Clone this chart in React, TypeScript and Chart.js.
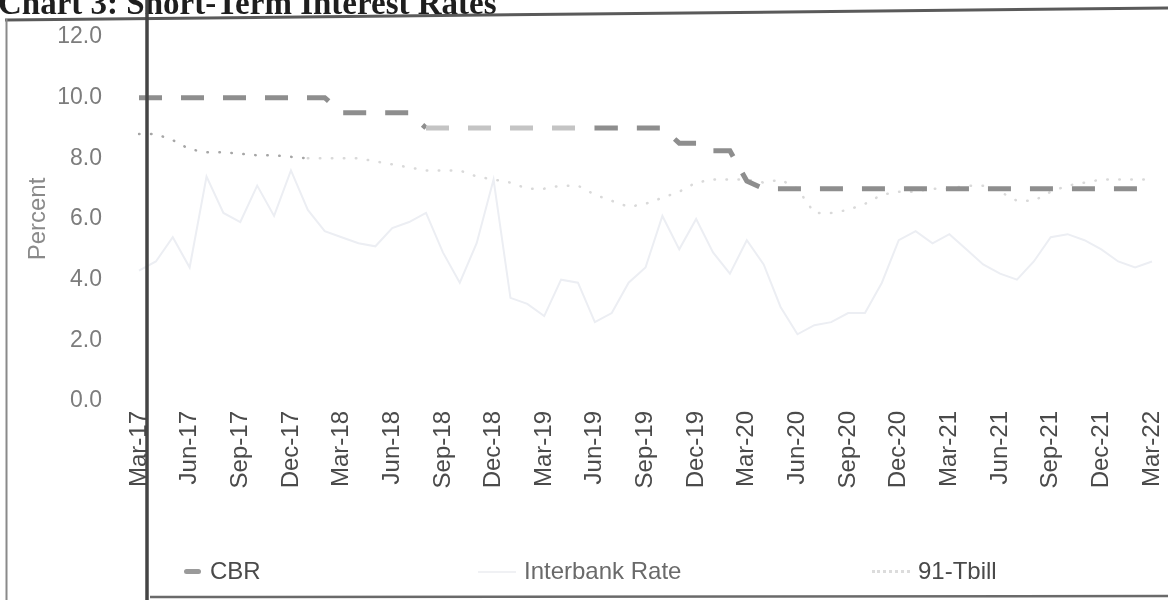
import React, { useEffect, useRef } from "react";
import { Chart, registerables } from "chart.js";

Chart.register(...registerables);

// ---- data (monthly, Mar-17 .. Mar-22) ----
const months = [
  "Mar-17", "Apr-17", "May-17", "Jun-17", "Jul-17", "Aug-17", "Sep-17", "Oct-17", "Nov-17", "Dec-17",
  "Jan-18", "Feb-18", "Mar-18", "Apr-18", "May-18", "Jun-18", "Jul-18", "Aug-18", "Sep-18", "Oct-18", "Nov-18", "Dec-18",
  "Jan-19", "Feb-19", "Mar-19", "Apr-19", "May-19", "Jun-19", "Jul-19", "Aug-19", "Sep-19", "Oct-19", "Nov-19", "Dec-19",
  "Jan-20", "Feb-20", "Mar-20", "Apr-20", "May-20", "Jun-20", "Jul-20", "Aug-20", "Sep-20", "Oct-20", "Nov-20", "Dec-20",
  "Jan-21", "Feb-21", "Mar-21", "Apr-21", "May-21", "Jun-21", "Jul-21", "Aug-21", "Sep-21", "Oct-21", "Nov-21", "Dec-21",
  "Jan-22", "Feb-22", "Mar-22",
];

const cbr = [
  10.0, 10.0, 10.0, 10.0, 10.0, 10.0, 10.0, 10.0, 10.0, 10.0,
  10.0, 10.0, 9.5, 9.5, 9.5, 9.5, 9.5, 9.0, 9.0, 9.0, 9.0, 9.0,
  9.0, 9.0, 9.0, 9.0, 9.0, 9.0, 9.0, 9.0, 9.0, 9.0, 8.5, 8.5,
  8.25, 8.25, 7.25, 7.0, 7.0, 7.0, 7.0, 7.0, 7.0, 7.0, 7.0, 7.0,
  7.0, 7.0, 7.0, 7.0, 7.0, 7.0, 7.0, 7.0, 7.0, 7.0, 7.0, 7.0,
  7.0, 7.0, 7.0,
];

const interbank = [
  4.3, 4.6, 5.4, 4.4, 7.4, 6.2, 5.9, 7.1, 6.1, 7.6,
  6.3, 5.6, 5.4, 5.2, 5.1, 5.7, 5.9, 6.2, 4.9, 3.9, 5.2, 7.3,
  3.4, 3.2, 2.8, 4.0, 3.9, 2.6, 2.9, 3.9, 4.4, 6.1, 5.0, 6.0,
  4.9, 4.2, 5.3, 4.5, 3.1, 2.2, 2.5, 2.6, 2.9, 2.9, 3.9, 5.3,
  5.6, 5.2, 5.5, 5.0, 4.5, 4.2, 4.0, 4.6, 5.4, 5.5, 5.3, 5.0,
  4.6, 4.4, 4.6,
];

const tbill91 = [
  8.8, 8.8, 8.6, 8.3, 8.2, 8.2, 8.15, 8.1, 8.1, 8.05,
  8.0, 8.0, 8.0, 8.0, 7.9, 7.8, 7.7, 7.6, 7.6, 7.6, 7.4, 7.3,
  7.2, 7.0, 7.0, 7.1, 7.1, 6.8, 6.6, 6.4, 6.5, 6.7, 6.9, 7.2,
  7.3, 7.3, 7.3, 7.2, 7.3, 7.0, 6.2, 6.2, 6.3, 6.5, 6.8, 6.9,
  6.9, 7.0, 7.0, 7.1, 7.1, 6.9, 6.6, 6.6, 6.9, 7.1, 7.2, 7.3,
  7.3, 7.3, 7.3,
];

const yMin = 0;
const yMax = 12;
const yStep = 2;
const seriesNames = ["CBR", "Interbank Rate", "91-Tbill"];
const titleText = "Chart 3: Short-Term Interest Rates";
const yTitle = "Percent";

const SANS = "'Liberation Sans', Arial, sans-serif";

export default function App() {
  const canvasRef = useRef<HTMLCanvasElement | null>(null);

  useEffect(() => {
    const canvas = canvasRef.current;
    if (!canvas) return;
    const chart = new Chart(canvas, {
      type: "line",
      data: {
        labels: months,
        datasets: [
          {
            label: seriesNames[0],
            data: cbr,
            borderColor: "#8e8e8e",
            borderWidth: 5,
            borderDash: [23, 19],
            borderCapStyle: "butt",
            pointRadius: 0,
            tension: 0,
            segment: {
              borderColor: (ctx: any) =>
                ctx.p0DataIndex >= 17 && ctx.p0DataIndex < 27 ? "#c4c4c4" : "#8e8e8e",
            },
          },
          {
            label: seriesNames[1],
            data: interbank,
            borderColor: "#eceef3",
            borderWidth: 2,
            pointRadius: 0,
            tension: 0,
          },
          {
            label: seriesNames[2],
            data: tbill91,
            borderColor: "#d8d8d8",
            borderWidth: 2.5,
            borderDash: [0.5, 11.5],
            borderCapStyle: "round",
            pointRadius: 0,
            tension: 0,
            segment: {
              borderColor: (ctx: any) => (ctx.p0DataIndex < 10 ? "#a6a6a6" : "#d9d9d9"),
            },
          },
        ],
      },
      options: {
        animation: false,
        responsive: false,
        maintainAspectRatio: false,
        layout: { padding: { top: 37, right: 16, left: 0, bottom: 0 } },
        plugins: {
          legend: { display: false },
          title: { display: false },
          tooltip: { enabled: false },
        },
        scales: {
          x: {
            type: "category",
            grid: { display: false, drawTicks: false },
            border: { display: false },
            ticks: {
              autoSkip: false,
              minRotation: 90,
              maxRotation: 90,
              padding: 10,
              color: "#4a4a4a",
              font: { family: SANS, size: 24 },
              callback: (_v: any, i: number) => (i % 3 === 0 ? months[i] : ""),
            },
            afterFit: (s: any) => {
              s.height = 199;
              s.paddingLeft = 0;
              s.paddingRight = 0;
            },
          },
          y: {
            min: yMin,
            max: yMax,
            grid: { display: false, drawTicks: false },
            border: { display: false },
            ticks: {
              stepSize: yStep,
              padding: 37,
              color: "#7c7c7c",
              font: { family: SANS, size: 23 },
              callback: (v: any) => Number(v).toFixed(1),
            },
            title: {
              display: true,
              text: yTitle,
              color: "#8a8a8a",
              font: { family: SANS, size: 24 },
              padding: { top: 24, bottom: 0 },
            },
            afterFit: (s: any) => {
              s.width = 139;
              s.paddingTop = 0;
              s.paddingBottom = 0;
            },
          },
        },
      },
    });
    return () => chart.destroy();
  }, []);

  const legendText: React.CSSProperties = {
    position: "absolute",
    top: 556,
    fontFamily: SANS,
    fontSize: 24,
    lineHeight: "30px",
    whiteSpace: "nowrap",
  };

  return (
    <div
      style={{
        position: "fixed",
        left: 0,
        top: 0,
        width: 1168,
        height: 600,
        overflow: "hidden",
        background: "#ffffff",
      }}
    >
      <canvas
        ref={canvasRef}
        width={1168}
        height={600}
        style={{ position: "absolute", left: 0, top: 0, width: 1168, height: 600 }}
      />
      {/* legend */}
      <div style={{ position: "absolute", left: 184, top: 569, width: 17, height: 5, borderRadius: 3, background: "#9a9a9a" }} />
      <div style={{ ...legendText, left: 210, color: "#4a4a4a" }}>{seriesNames[0]}</div>
      <div style={{ position: "absolute", left: 478, top: 571, width: 38, height: 2, background: "#f0f1f4" }} />
      <div style={{ ...legendText, left: 524, color: "#6a6a6a" }}>{seriesNames[1]}</div>
      <div style={{ position: "absolute", left: 872, top: 570, width: 38, height: 0, borderTop: "3px dotted #dcdcdc" }} />
      <div style={{ ...legendText, left: 918, color: "#4a4a4a" }}>{seriesNames[2]}</div>
      {/* scanned frame, title and fold line */}
      <svg
        width={1168}
        height={600}
        style={{ position: "absolute", left: 0, top: 0, pointerEvents: "none" }}
      >
        <text
          x={-2}
          y={14}
          fontFamily="'Liberation Serif', 'Times New Roman', serif"
          fontWeight="bold"
          fontSize={33}
          fill="#1e1e1e"
        >
          {titleText}
        </text>
        <line x1={5} y1={20} x2={1168} y2={8} stroke="#5a5a5a" strokeWidth={3} />
        <line x1={6.5} y1={19} x2={6.5} y2={600} stroke="#8a8a8a" strokeWidth={2} />
        <line x1={150} y1={597} x2={1168} y2={596} stroke="#6a6a6a" strokeWidth={2.5} />
        <line x1={147} y1={0} x2={147} y2={600} stroke="#454545" strokeWidth={3.5} />
      </svg>
    </div>
  );
}
